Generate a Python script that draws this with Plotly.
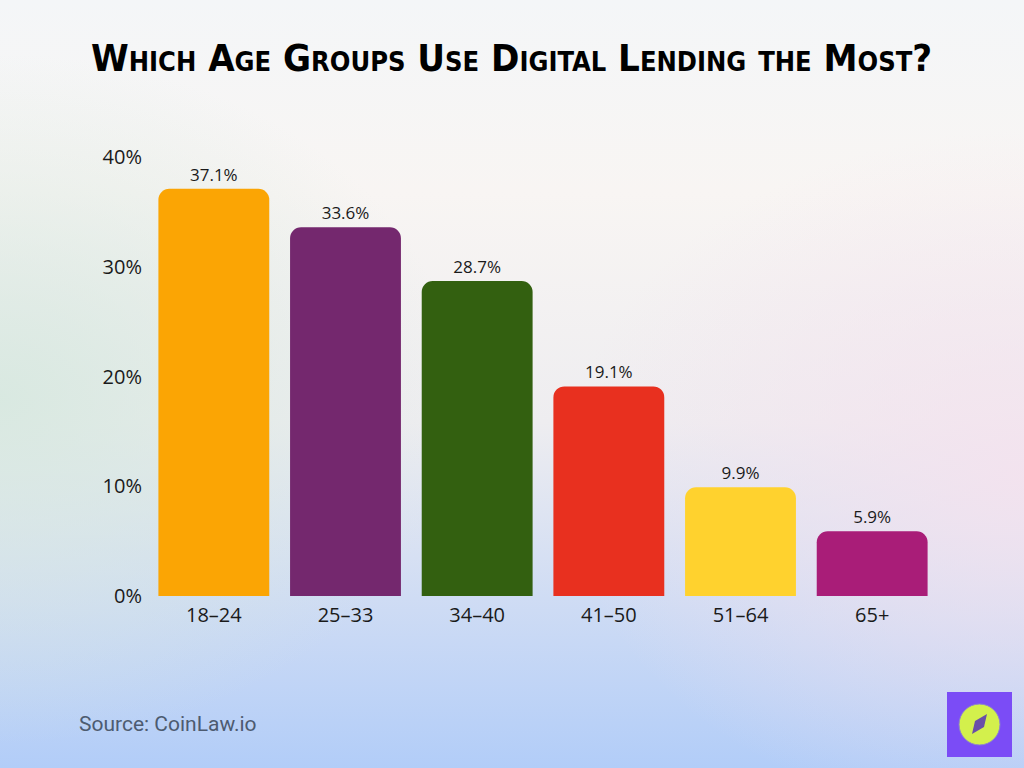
import base64
import plotly.graph_objects as go

# ---- data ----
categories = ["18–24", "25–33", "34–40", "41–50", "51–64", "65+"]
values = [37.1, 33.6, 28.7, 19.1, 9.9, 5.9]
labels = ["37.1%", "33.6%", "28.7%", "19.1%", "9.9%", "5.9%"]
colors = ["#FBA504", "#74286E", "#336010", "#E8301F", "#FFD22E", "#A91D78"]
y_ticks = [0, 10, 20, 30, 40]
y_tick_text = ["0%", "10%", "20%", "30%", "40%"]

W, H = 1024, 768

# ---- background gradient (SVG data URI) ----
svg = f"""<svg xmlns='http://www.w3.org/2000/svg' width='{W}' height='{H}' viewBox='0 0 {W} {H}'>
<defs>
<linearGradient id='v' x1='0' y1='0' x2='0' y2='1'>
<stop offset='0' stop-color='#f4f6f8'/>
<stop offset='0.25' stop-color='#f8f5f3'/>
<stop offset='0.55' stop-color='#eeedf0'/>
<stop offset='0.78' stop-color='#cfdcf4'/>
<stop offset='1' stop-color='#b2cdf8'/>
</linearGradient>
<radialGradient id='g' cx='0' cy='0.52' r='0.45'>
<stop offset='0' stop-color='#d6e8df' stop-opacity='0.9'/>
<stop offset='1' stop-color='#d6e8df' stop-opacity='0'/>
</radialGradient>
<radialGradient id='p' cx='1' cy='0.62' r='0.45'>
<stop offset='0' stop-color='#f4e2ee' stop-opacity='0.9'/>
<stop offset='1' stop-color='#f4e2ee' stop-opacity='0'/>
</radialGradient>
</defs>
<rect width='{W}' height='{H}' fill='url(#v)'/>
<rect width='{W}' height='{H}' fill='url(#g)'/>
<rect width='{W}' height='{H}' fill='url(#p)'/>
</svg>"""
bg_uri = "data:image/svg+xml;base64," + base64.b64encode(svg.encode()).decode()

tick_font = dict(family="Open Sans, Lato, sans-serif", size=20, color="#1a1a1a")

fig = go.Figure(
    go.Bar(
        x=categories,
        y=values,
        text=labels,
        textposition="outside",
        textfont=dict(family="Open Sans, Lato, sans-serif", size=17, color="#1a1a1a"),
        marker=dict(color=colors, cornerradius=11, line=dict(width=0)),
        cliponaxis=False,
        hoverinfo="skip",
    )
)

title_text = "Which Age Groups Use Digital Lending the Most?"

fig.update_layout(
    width=W,
    height=H,
    margin=dict(l=0, r=0, t=0, b=0),
    paper_bgcolor="rgba(0,0,0,0)",
    plot_bgcolor="rgba(0,0,0,0)",
    bargap=0.158,
    showlegend=False,
    images=[dict(source=bg_uri, xref="paper", yref="paper", x=0, y=1,
                 sizex=1, sizey=1, sizing="stretch", layer="below",
                 xanchor="left", yanchor="top")],
    xaxis=dict(
        domain=[148 / W, 938 / W],
        showgrid=False, zeroline=False, showline=False, ticks="",
        tickfont=tick_font,
        ticklabelstandoff=5,
        automargin=False,
        fixedrange=True,
    ),
    yaxis=dict(
        domain=[(H - 596) / H, (H - 157) / H],
        range=[0, 40],
        tickvals=y_ticks,
        ticktext=y_tick_text,
        showgrid=False, zeroline=False, showline=False, ticks="",
        tickfont=tick_font,
        ticklabelstandoff=5,
        automargin=False,
        fixedrange=True,
    ),
    annotations=[
        dict(text=title_text, xref="paper", yref="paper",
             x=511 / W, y=1 - 58 / H, xanchor="center", yanchor="middle",
             showarrow=False,
             font=dict(family="DejaVu Sans Condensed, DejaVu Sans, sans-serif",
                       size=38, color="#000000", weight="bold",
                       variant="small-caps")),
        dict(text="Source: CoinLaw.io", xref="paper", yref="paper",
             x=77 / W, y=1 - 724 / H, xanchor="left", yanchor="middle",
             showarrow=False,
             font=dict(family="Roboto, sans-serif", size=21, color="#4d5b70")),
    ],
    shapes=[
        dict(type="rect", xref="paper", yref="paper",
             x0=947 / W, x1=1012 / W, y0=1 - 757 / H, y1=1 - 692 / H,
             fillcolor="#7b4cf6", line=dict(width=0)),
        dict(type="circle", xref="paper", yref="paper",
             x0=959 / W, x1=1000 / W, y0=1 - 745 / H, y1=1 - 704 / H,
             fillcolor="#d3f04c", line=dict(color="#8a7fd0", width=1)),
        dict(type="path", xref="paper", yref="paper",
             path=(f"M {972/W} {1-734/H} L {975/W} {1-721/H} "
                   f"L {987/W} {1-714/H} L {984/W} {1-727/H} Z"),
             fillcolor="#6a4fa8", line=dict(width=0)),
    ],
)

fig.write_html("out.html")
